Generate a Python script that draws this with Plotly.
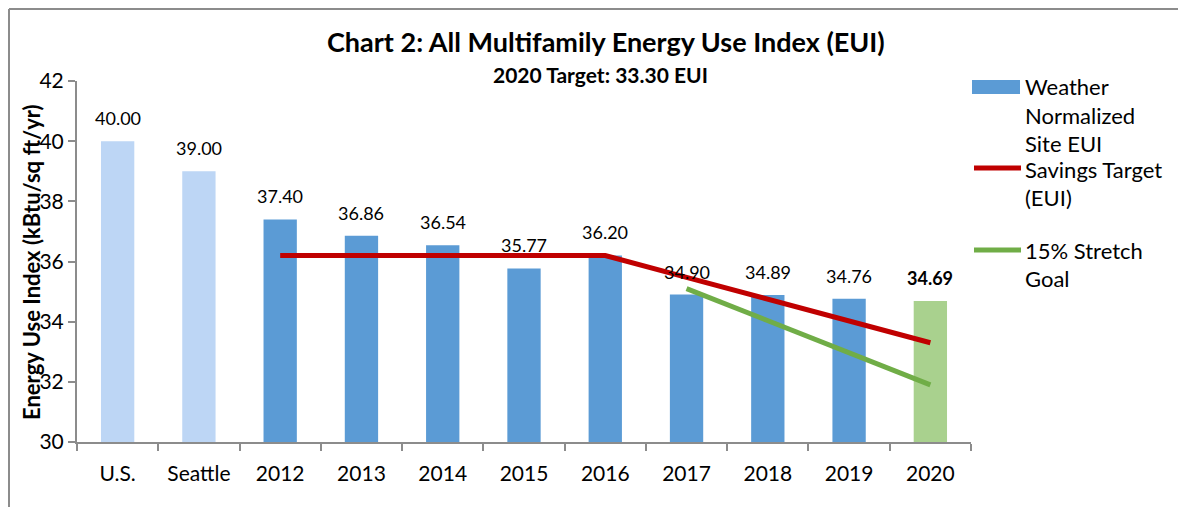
import plotly.graph_objects as go

categories = ["U.S.", "Seattle", "2012", "2013", "2014", "2015", "2016", "2017", "2018", "2019", "2020"]
eui_values = [40.00, 39.00, 37.40, 36.86, 36.54, 35.77, 36.20, 34.90, 34.89, 34.76, 34.69]
label_texts = ["40.00", "39.00", "37.40", "36.86", "36.54", "35.77", "36.20", "34.90", "34.89", "34.76", "<b>34.69</b>"]
bar_colors = ["#BDD6F5", "#BDD6F5", "#5B9BD5", "#5B9BD5", "#5B9BD5", "#5B9BD5", "#5B9BD5",
              "#5B9BD5", "#5B9BD5", "#5B9BD5", "#A9D18E"]
target_years = ["2012", "2013", "2014", "2015", "2016", "2017", "2018", "2019", "2020"]
target_values = [36.20, 36.20, 36.20, 36.20, 36.20, 35.475, 34.75, 34.025, 33.30]
stretch_years = ["2017", "2018", "2019", "2020"]
stretch_values = [35.10, 34.03, 32.97, 31.90]

FONT = "Lato"
W, H = 1186, 507
OFF = 8  # page body margin
ML, MR, MT, MB = 77 - OFF, 223, 81 - OFF, 73
PW, PH = W - ML - MR, H - MT - MB


def px(x):
    return (x - OFF - ML) / PW


def py(y):
    return (H - MB - (y - OFF)) / PH


fig = go.Figure()
fig.add_trace(go.Bar(
    x=categories, y=eui_values, marker=dict(color=bar_colors, line=dict(width=0)),
    name="Weather Normalized Site EUI", showlegend=False))
fig.add_trace(go.Scatter(
    x=target_years, y=target_values, mode="lines",
    line=dict(color="#C00000", width=5), name="Savings Target (EUI)", showlegend=False))
fig.add_trace(go.Scatter(
    x=stretch_years, y=stretch_values, mode="lines",
    line=dict(color="#70AD47", width=5), name="15% Stretch Goal", showlegend=False))

for i, (v, t) in enumerate(zip(eui_values, label_texts)):
    fig.add_annotation(x=i, y=v, text=t, showarrow=False, yanchor="bottom", yshift=10,
                       font=dict(family=FONT, size=18, color="#000000"))

fig.add_annotation(xref="paper", yref="paper", x=px(606), y=py(42), text="<b>Chart 2: All Multifamily Energy Use Index (EUI)</b>",
                   showarrow=False, font=dict(family=FONT, size=27, color="#000000"), yanchor="middle")
fig.add_annotation(xref="paper", yref="paper", x=px(600), y=py(75), text="<b>2020 Target: 33.30 EUI</b>",
                   showarrow=False, font=dict(family=FONT, size=21, color="#000000"), yanchor="middle")
fig.add_annotation(xref="paper", yref="paper", x=px(31), y=py(262), text="<b>Energy Use Index (kBtu/sq ft/yr)</b>",
                   textangle=-90, showarrow=False, font=dict(family=FONT, size=22, color="#000000"),
                   xanchor="center", yanchor="middle")

# legend (drawn manually)
legend_lines = [
    ("Weather", 87), ("Normalized", 115), ("Site EUI", 143),
    ("Savings Target", 169), ("(EUI)", 197), ("15% Stretch", 250), ("Goal", 278),
]
for txt, yy in legend_lines:
    fig.add_annotation(xref="paper", yref="paper", x=px(1023), y=py(yy), text=txt, showarrow=False,
                       xanchor="left", yanchor="middle", font=dict(family=FONT, size=22, color="#000000"))
fig.add_shape(type="rect", xref="paper", yref="paper", x0=px(972), x1=px(1020), y0=py(80), y1=py(94),
              fillcolor="#5B9BD5", line=dict(width=0))
fig.add_shape(type="line", xref="paper", yref="paper", x0=px(974), x1=px(1021), y0=py(168), y1=py(168),
              line=dict(color="#C00000", width=5))
fig.add_shape(type="line", xref="paper", yref="paper", x0=px(974), x1=px(1021), y0=py(250), y1=py(250),
              line=dict(color="#70AD47", width=5))

# outer frame (top and left edges, at the figure's edge)
fig.add_shape(type="line", xref="paper", yref="paper", x0=px(OFF + 1), x1=px(1200), y0=py(OFF + 1), y1=py(OFF + 1),
              line=dict(color="#8C8C8C", width=2))
fig.add_shape(type="line", xref="paper", yref="paper", x0=px(OFF + 1), x1=px(OFF + 1), y0=py(OFF + 1), y1=py(520),
              line=dict(color="#8C8C8C", width=2))

fig.update_layout(
    width=W, height=H,
    margin=dict(l=ML, r=MR, t=MT, b=MB),
    paper_bgcolor="white", plot_bgcolor="white",
    bargap=0.59,
    showlegend=False,
    font=dict(family=FONT, color="#000000"),
)
fig.update_xaxes(type="category", showline=True, linecolor="#8C8C8C", linewidth=2,
                 ticks="outside", ticklen=7, tickcolor="#8C8C8C", tickwidth=2,
                 tickson="boundaries", showgrid=False, ticklabelstandoff=12,
                 tickfont=dict(family=FONT, size=21, color="#000000"))
fig.update_yaxes(range=[30, 42], dtick=2, showline=True, linecolor="#8C8C8C", linewidth=2,
                 ticks="outside", ticklen=7, tickcolor="#8C8C8C", tickwidth=2, showgrid=False,
                 zeroline=False,
                 tickfont=dict(family=FONT, size=21, color="#000000"))

fig.write_html("out.html")
